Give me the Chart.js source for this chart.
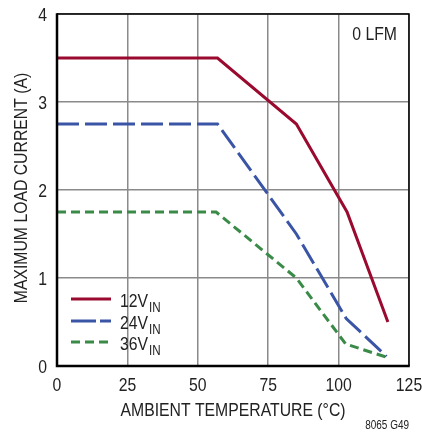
<!DOCTYPE html>
<html>
<head>
<meta charset="utf-8">
<script src="https://cdn.jsdelivr.net/npm/chart.js@4/dist/chart.umd.min.js"></script>
<style>
  html, body { margin: 0; padding: 0; background: #fff; }
  #wrap { width: 422px; height: 436px; position: relative; }
</style>
</head>
<body>
<div id="wrap"><canvas id="c" width="422" height="436"></canvas></div>
<script>
const FONT = "'Liberation Sans Narrow', 'Liberation Sans', Arial, sans-serif";
const NARROW = 0.83;

// Data
const temp12 = [0, 57, 85, 103, 117.5];
const load12 = [3.5, 3.5, 2.75, 1.75, 0.5];
const temp24 = [0, 57, 85, 102.7, 117];
const load24 = [2.75, 2.75, 1.5, 0.54, 0.11];
const temp36 = [0, 56.5, 85, 102.5, 117];
const load36 = [1.75, 1.75, 1.0, 0.25, 0.1];

const xTicks = [0, 25, 50, 75, 100, 125];
const yTicks = [0, 1, 2, 3, 4];

const seriesNames = ['12V', '24V', '36V'];
const seriesSub = 'IN';
const xTitle = 'AMBIENT TEMPERATURE (°C)';
const yTitle = 'MAXIMUM LOAD CURRENT (A)';
const noteText = '0 LFM';
const codeText = '8065 G49';

const colors = ['#9a0a2f', '#3a55a6', '#3a8a48'];
const dashes = [[], [22, 6], [9, 5]];

function pts(xs, ys) { return xs.map((x, i) => ({ x: x, y: ys[i] })); }

const data = {
  datasets: [
    { label: seriesNames[0], data: pts(temp12, load12) },
    { label: seriesNames[1], data: pts(temp24, load24) },
    { label: seriesNames[2], data: pts(temp36, load36) }
  ].map((d, i) => Object.assign(d, {
    borderColor: colors[i], backgroundColor: colors[i], borderWidth: 3,
    borderDash: dashes[i], pointRadius: 0, tension: 0, fill: false,
    borderCapStyle: 'butt', borderJoinStyle: 'miter'
  }))
};

// draw horizontally condensed text (real text via fillText)
function narrowText(ctx, text, x, y, size, align, baseline) {
  ctx.save();
  ctx.font = size + 'px ' + FONT;
  ctx.textAlign = align;
  ctx.textBaseline = baseline || 'alphabetic';
  ctx.translate(x, y);
  ctx.scale(NARROW, 1);
  ctx.fillText(text, 0, 0);
  const w = ctx.measureText(text).width * NARROW;
  ctx.restore();
  return w;
}

const frame = {
  id: 'frame',
  afterDatasetsDraw(chart) {
    const { ctx, chartArea: a, scales } = chart;
    ctx.save();
    ctx.strokeStyle = '#000';
    ctx.lineWidth = 1.5;
    ctx.beginPath();
    ctx.moveTo(a.left, a.top); ctx.lineTo(a.right, a.top); ctx.lineTo(a.right, a.bottom);
    ctx.stroke();
    ctx.lineWidth = 2.5;
    ctx.beginPath();
    ctx.moveTo(a.left, a.top - 0.75); ctx.lineTo(a.left, a.bottom); ctx.lineTo(a.right + 0.75, a.bottom);
    ctx.stroke();

    ctx.fillStyle = '#222';
    // tick labels from the library's scales
    scales.x.ticks.forEach(t => {
      narrowText(ctx, String(t.value), scales.x.getPixelForValue(t.value), 390.5, 19, 'center');
    });
    scales.y.ticks.forEach(t => {
      narrowText(ctx, String(t.value), 47, scales.y.getPixelForValue(t.value) + 6.8, 19, 'right');
    });

    // note
    narrowText(ctx, noteText, 397, 40, 19, 'right');

    // axis titles
    narrowText(ctx, xTitle, (a.left + a.right) / 2, 416, 19, 'center');
    ctx.save();
    ctx.translate(27, 188);
    ctx.rotate(-Math.PI / 2);
    narrowText(ctx, yTitle, 0, 0, 19, 'center');
    ctx.restore();

    // legend
    const ys = [299, 321, 342];
    ys.forEach((y, i) => {
      ctx.strokeStyle = colors[i];
      ctx.lineWidth = 3;
      ctx.setLineDash(i === 1 ? [25, 4] : (i === 2 ? [9, 5] : []));
      ctx.beginPath();
      ctx.moveTo(71, y); ctx.lineTo(111, y);
      ctx.stroke();
      ctx.setLineDash([]);
      ctx.fillStyle = '#222';
      const w = narrowText(ctx, seriesNames[i], 120, y + 7.5, 19, 'left');
      narrowText(ctx, seriesSub, 121 + w, y + 12.5, 14, 'left');
    });

    // code label
    narrowText(ctx, codeText, 409, 429, 12, 'right');
    ctx.restore();
  }
};

new Chart(document.getElementById('c'), {
  type: 'line',
  data: data,
  options: {
    responsive: false,
    animation: false,
    devicePixelRatio: 1,
    layout: { padding: { left: 0, top: 14, right: 13, bottom: 0 } },
    plugins: { legend: { display: false }, tooltip: { enabled: false } },
    scales: {
      x: {
        type: 'linear', min: 0, max: 125,
        afterBuildTicks(s) { s.ticks = xTicks.map(v => ({ value: v })); },
        afterFit(s) { s.height = 70; s.paddingLeft = 0; s.paddingRight = 0; },
        grid: { color: '#8a8a8a', lineWidth: 1.5, drawTicks: false },
        border: { display: false },
        ticks: { display: false },
        title: { display: false }
      },
      y: {
        type: 'linear', min: 0, max: 4,
        afterBuildTicks(s) { s.ticks = yTicks.map(v => ({ value: v })); },
        afterFit(s) { s.width = 57; s.paddingTop = 0; s.paddingBottom = 0; },
        grid: { color: '#8a8a8a', lineWidth: 1.5, drawTicks: false },
        border: { display: false },
        ticks: { display: false },
        title: { display: false }
      }
    }
  },
  plugins: [frame]
});
</script>
</body>
</html>
